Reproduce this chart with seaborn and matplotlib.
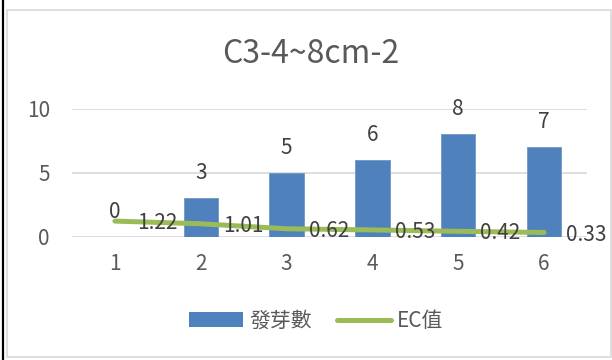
import matplotlib
matplotlib.use("Agg")
import matplotlib.pyplot as plt
from matplotlib.patches import Patch, Rectangle
from matplotlib.lines import Line2D
import seaborn as sns
import pandas as pd

categories = ["1", "2", "3", "4", "5", "6"]
germination = [0, 3, 5, 6, 8, 7]
ec_values = [1.22, 1.01, 0.62, 0.53, 0.42, 0.33]
y_ticks = [0, 5, 10]
title = "C3-4~8cm-2"
series_names = ["發芽數", "EC值"]

BLUE = "#4F81BD"
GREEN = "#9BBB59"
GRID = "#D9D9D9"
TEXT = "#595959"
LABEL = "#404040"
FS = 15

sns.set_theme(style="white")
plt.rcParams["font.family"] = ["Noto Sans CJK TC", "DejaVu Sans"]

DPI = 100
fig = plt.figure(figsize=(6.12, 3.6), dpi=DPI)
ax = fig.add_axes([72 / 612, 1 - 236.7 / 360, (587 - 72) / 612, 128 / 360])

df = pd.DataFrame({"cat": categories, "val": germination})
sns.barplot(data=df, x="cat", y="val", color=BLUE, saturation=1, width=0.4,
            edgecolor="#6F97C9", linewidth=0.6, ax=ax, zorder=2)
sns.lineplot(x=list(range(len(categories))), y=ec_values, color=GREEN,
             linewidth=3.6, ax=ax, zorder=3, solid_capstyle="round")

ax.set_xlim(-0.5, len(categories) - 0.5)
ax.set_ylim(0, 10)
ax.set_yticks(y_ticks)
ax.set_yticklabels([str(t) for t in y_ticks])
ax.grid(axis="y", color=GRID, linewidth=1.2, zorder=0)
ax.set_axisbelow(True)
for s in ax.spines.values():
    s.set_visible(False)
ax.set_xlabel("")
ax.set_ylabel("")
ax.tick_params(axis="both", length=0, labelsize=FS, labelcolor=TEXT)
ax.tick_params(axis="y", pad=16)
ax.tick_params(axis="x", pad=12)

# value labels
for i, v in enumerate(germination):
    ax.annotate(str(v), (i, v), xytext=(0, 18), textcoords="offset points",
                ha="center", va="center", fontsize=FS, color=LABEL, zorder=4)
for i, v in enumerate(ec_values):
    ax.annotate(f"{v:.2f}", (i, v), xytext=(16, -1.5), textcoords="offset points",
                ha="left", va="center", fontsize=FS, color=LABEL, zorder=4)

fig.text(311 / 612, 1 - 54 / 360, title, ha="center", va="center",
         fontsize=23, color=TEXT)

handles = [Patch(facecolor=BLUE, edgecolor="none"),
           Line2D([0], [0], color=GREEN, linewidth=3.6, solid_capstyle="round")]
fig.legend(handles, series_names, loc="center", bbox_to_anchor=(316 / 612, 1 - 321 / 360),
           ncol=2, frameon=False, fontsize=FS, labelcolor=TEXT,
           handlelength=2.6, handletextpad=0.3, columnspacing=1.2, handleheight=0.7)

# chart frame
fig.patches.append(Rectangle((7 / 612, 1 - 357 / 360), (611 - 7) / 612, (357 - 10) / 360,
                             transform=fig.transFigure, fill=False,
                             edgecolor=GRID, linewidth=1.2))
fig.lines.append(Line2D([3 / 612, 3 / 612], [0, 1], transform=fig.transFigure,
                        color="black", linewidth=1.6))

fig.savefig("out.png", dpi=DPI)
